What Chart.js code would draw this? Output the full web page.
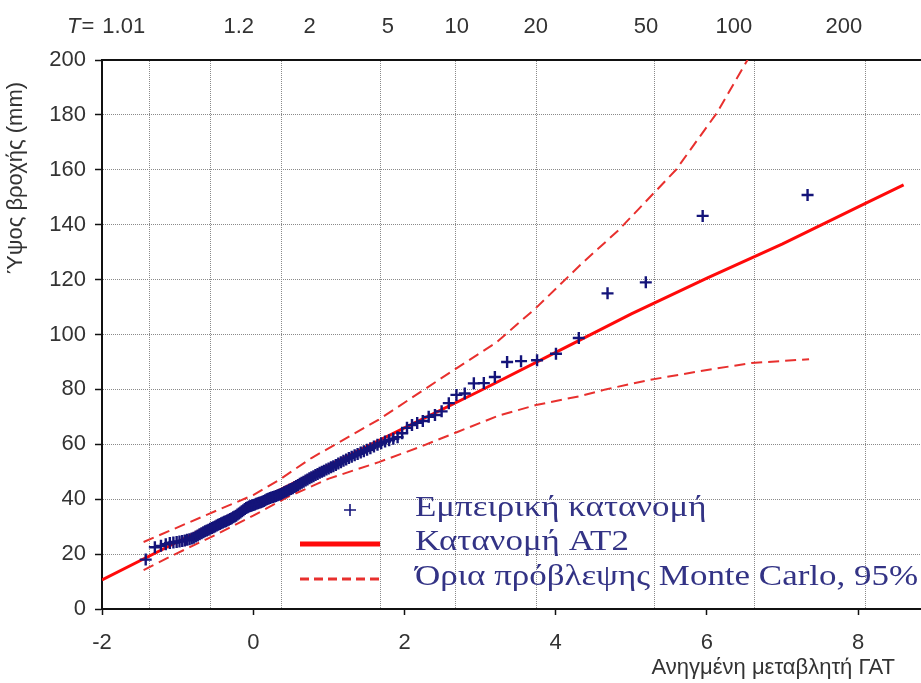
<!DOCTYPE html>
<html>
<head>
<meta charset="utf-8">
<script src="https://cdn.jsdelivr.net/npm/chart.js@4/dist/chart.umd.min.js"></script>
<style>
  html, body { margin: 0; padding: 0; background: #ffffff; }
  #chart { display: block; }
</style>
</head>
<body>
<canvas id="chart" width="921" height="683"></canvas>
<script>
// Empirical distribution: reduced variate of each plotting position and the observed depth (mm), ascending
const empiricalX = [
  -1.422, -1.301, -1.220, -1.157, -1.103, -1.056, -1.013, -0.975, -0.939, -0.905,
  -0.874, -0.843, -0.814, -0.787, -0.760, -0.734, -0.709, -0.684, -0.660, -0.637,
  -0.614, -0.591, -0.569, -0.547, -0.526, -0.505, -0.484, -0.464, -0.443, -0.423,
  -0.403, -0.382, -0.363, -0.343, -0.324, -0.304, -0.285, -0.265, -0.246, -0.227,
  -0.208, -0.189, -0.170, -0.151, -0.131, -0.112, -0.093, -0.074, -0.055, -0.036,
  -0.017, 0.002, 0.022, 0.041, 0.061, 0.080, 0.100, 0.120, 0.139, 0.159,
  0.179, 0.200, 0.220, 0.240, 0.261, 0.282, 0.302, 0.323, 0.344, 0.366,
  0.387, 0.409, 0.431, 0.454, 0.476, 0.499, 0.522, 0.545, 0.569, 0.593,
  0.617, 0.641, 0.666, 0.692, 0.717, 0.743, 0.769, 0.796, 0.823, 0.851,
  0.879, 0.908, 0.937, 0.967, 0.997, 1.028, 1.059, 1.092, 1.125, 1.159,
  1.193, 1.229, 1.265, 1.302, 1.341, 1.380, 1.421, 1.462, 1.505, 1.549,
  1.596, 1.643, 1.692, 1.743, 1.797, 1.852, 1.909, 1.969, 2.033, 2.099,
  2.168, 2.242, 2.320, 2.403, 2.491, 2.586, 2.687, 2.797, 2.917, 3.049,
  3.195, 3.357, 3.541, 3.753, 4.003, 4.305, 4.685, 5.191, 5.943, 7.330
];
const empiricalY = [
  18, 22.5, 23, 23.6, 24, 24.2, 24.4, 24.6, 24.8, 25,
  25.2, 25.4, 25.7, 26, 26.4, 26.8, 27.2, 27.6, 28, 28.3,
  28.6, 28.9, 29.2, 29.5, 29.8, 30.1, 30.4, 30.7, 31, 31.2,
  31.5, 31.8, 32, 32.2, 32.5, 32.8, 33.1, 33.4, 33.7, 34,
  34.4, 34.8, 35.2, 35.6, 36, 36.4, 36.8, 37.1, 37.3, 37.5,
  37.7, 37.9, 38.1, 38.3, 38.5, 38.7, 38.9, 39.1, 39.3, 39.6,
  40, 40.2, 40.4, 40.6, 40.8, 41, 41.2, 41.4, 41.6, 41.9,
  42.2, 42.5, 42.8, 43.1, 43.4, 43.7, 44, 44.4, 44.8, 45.2,
  45.6, 46, 46.4, 46.8, 47.2, 47.6, 48, 48.4, 48.8, 49.2,
  49.6, 50, 50.4, 50.8, 51.2, 51.6, 52, 52.5, 53, 53.5,
  54, 54.5, 55, 55.5, 56, 56.5, 57, 57.5, 58, 58.6,
  59.2, 59.8, 60.4, 61, 61.5, 62, 62.6, 64, 66, 67,
  67.8, 68.5, 70, 70.7, 72, 75, 78, 78.5, 82.2, 82.3,
  84.5, 90, 90.3, 90.6, 93, 98.7, 115, 119, 143.2, 150.8
];

// Fitted AT2 distribution
const fitX = [-2, -1, 0, 1, 2, 3, 4, 5, 6, 7, 8, 8.6];
const fitY = [10.6, 24.5, 38.5, 52.3, 66, 79.5, 93.5, 107.5, 120.5, 133, 146.5, 154.5];

// Monte Carlo 95% prediction limits
const upperX = [-1.45, -0.6, 0, 0.34, 0.77, 1.66, 2.45, 3.21, 3.74, 4.35, 4.83, 5.59, 6.13, 6.55, 6.7];
const upperY = [24.4, 34.5, 41.5, 47, 55, 69, 83.4, 97, 109.7, 126, 138, 160, 180.7, 200.7, 207];
const lowerX = [-1.45, -1.03, -0.5, 0, 0.47, 1.0, 1.66, 2.2, 2.7, 3.25, 3.74, 4.31, 4.66, 5.23, 5.98, 6.59, 7.35];
const lowerY = [14.2, 20, 27, 34, 41, 47.5, 53.5, 59, 64.5, 70.5, 74.3, 77.5, 80, 83.4, 87, 89.6, 91];

// Return periods: gridline positions on the reduced-variate axis, label positions and texts
const periodGridX = [-1.37, -0.56, 0.377, 1.68, 2.677, 3.742, 5.30, 6.63, 8.09];
const periodLabelX = [-1.713, -0.192, 0.747, 1.779, 2.692, 3.737, 5.192, 6.356, 7.81];
const periodLabels = ['1.01', '1.2', '2', '5', '10', '20', '50', '100', '200'];

// Axis ticks and titles
const xTicks = [-2, 0, 2, 4, 6, 8];
const yTicks = [0, 20, 40, 60, 80, 100, 120, 140, 160, 180, 200];
const xTitle = 'Ανηγμένη μεταβλητή ΓΑΤ';
const yTitle = 'Ύψος βροχής (mm)';
const periodPrefix = 'T';

const seriesNames = ['Εμπειρική κατανομή', 'Κατανομή ΑΤ2', 'Όρια πρόβλεψης Monte Carlo, 95%'];

const pairs = (xs, ys) => xs.map((x, i) => ({ x: x, y: ys[i] }));

const X_MIN = -2, X_MAX = 8.83;
const TICK_FONT = { family: "'Liberation Sans', Arial, sans-serif", size: 22 };
const TICK_COLOR = '#333333';
const GRID_COLOR = '#8a8a8a';
const NAVY = '#14147a';
const RED = '#ff0a0a';
const RED_DASH = '#e8302e';

// Keep horizontal axes from reserving side space for their end labels
const noSidePadding = s => { s.paddingLeft = 0; s.paddingRight = 0; };

// Axis titles, the italic "T=" prefix and the legend in the lower right of the plot
const decorations = {
  id: 'decorations',
  afterDraw(chart) {
    const ctx = chart.ctx;
    const xL = chart.scales.xL;
    ctx.save();

    // "T=" before the first return-period label
    ctx.font = "22px 'Liberation Sans', Arial, sans-serif";
    const firstW = ctx.measureText(periodLabels[0]).width;
    const px = xL.getPixelForValue(periodLabelX[0]) - firstW / 2 - 8;
    ctx.fillStyle = TICK_COLOR;
    ctx.textBaseline = 'middle';
    ctx.textAlign = 'right';
    const eqW = ctx.measureText('=').width;
    ctx.fillText('=', px, 27);
    ctx.font = "italic 22px 'Liberation Sans', Arial, sans-serif";
    ctx.fillText(periodPrefix, px - eqW - 1, 27);

    // x-axis title
    ctx.font = "22px 'Liberation Sans', Arial, sans-serif";
    ctx.textAlign = 'right';
    ctx.fillText(xTitle, 895, 668);

    // y-axis title
    ctx.save();
    ctx.translate(16, 178);
    ctx.rotate(-Math.PI / 2);
    ctx.textAlign = 'center';
    ctx.fillText(yTitle, 0, 0);
    ctx.restore();

    // Legend
    const ds = chart.data.datasets;
    const rows = [510, 544, 579];
    const sx0 = 300, sx1 = 380, tx = 415;
    // empirical marker
    ctx.strokeStyle = ds[0].borderColor;
    ctx.lineWidth = 1.6;
    ctx.beginPath();
    ctx.moveTo(344, rows[0]); ctx.lineTo(356, rows[0]);
    ctx.moveTo(350, rows[0] - 6); ctx.lineTo(350, rows[0] + 6);
    ctx.stroke();
    // fitted line
    ctx.strokeStyle = ds[1].borderColor;
    ctx.lineWidth = 5;
    ctx.beginPath(); ctx.moveTo(sx0, rows[1]); ctx.lineTo(sx1, rows[1]); ctx.stroke();
    // limits
    ctx.strokeStyle = ds[2].borderColor;
    ctx.lineWidth = 3;
    ctx.setLineDash([9, 5]);
    ctx.beginPath(); ctx.moveTo(sx0, rows[2]); ctx.lineTo(sx1, rows[2]); ctx.stroke();
    ctx.setLineDash([]);

    ctx.fillStyle = '#333385';
    ctx.textAlign = 'left';
    ctx.textBaseline = 'middle';
    ctx.font = "30px 'Liberation Serif', 'Times New Roman', serif";
    const longest = ctx.measureText(seriesNames[2]).width;
    const stretch = 503 / longest;
    seriesNames.forEach((name, i) => {
      ctx.save();
      ctx.translate(tx, rows[i] - 2);
      ctx.scale(stretch, 1);
      ctx.fillText(name, 0, 0);
      ctx.restore();
    });
    ctx.restore();
  }
};

new Chart(document.getElementById('chart'), {
  type: 'scatter',
  data: {
    datasets: [
      {
        label: seriesNames[0],
        data: pairs(empiricalX, empiricalY),
        showLine: false,
        pointStyle: 'cross',
        pointRadius: 6,
        pointBorderWidth: 2.4,
        borderColor: NAVY,
        backgroundColor: NAVY
      },
      {
        label: seriesNames[1],
        data: pairs(fitX, fitY),
        showLine: true,
        borderColor: RED,
        borderWidth: 3,
        pointRadius: 0,
        tension: 0,
        fill: false
      },
      {
        label: seriesNames[2],
        data: pairs(upperX, upperY),
        showLine: true,
        borderColor: RED_DASH,
        borderWidth: 2,
        borderDash: [11, 6],
        pointRadius: 0,
        tension: 0,
        fill: false
      },
      {
        label: seriesNames[2],
        data: pairs(lowerX, lowerY),
        showLine: true,
        borderColor: RED_DASH,
        borderWidth: 2,
        borderDash: [11, 6],
        pointRadius: 0,
        tension: 0,
        fill: false
      }
    ]
  },
  options: {
    responsive: false,
    animation: false,
    devicePixelRatio: 1,
    events: [],
    layout: { padding: 0, autoPadding: false },
    plugins: {
      legend: { display: false },
      tooltip: { enabled: false }
    },
    scales: {
      x: {
        type: 'linear',
        position: 'bottom',
        min: X_MIN,
        max: X_MAX,
        afterBuildTicks: s => { s.ticks = xTicks.map(v => ({ value: v })); },
        afterFit: s => { s.height = 74; noSidePadding(s); },
        grid: { drawOnChartArea: false, drawTicks: true, tickLength: 6, tickColor: '#111', tickWidth: 1.5 },
        border: { display: true, color: '#111', width: 2 },
        ticks: { font: TICK_FONT, color: TICK_COLOR, padding: 15, autoSkip: false, maxRotation: 0, minRotation: 0 }
      },
      xT: {
        type: 'linear',
        position: 'top',
        weight: 0,
        min: X_MIN,
        max: X_MAX,
        afterBuildTicks: s => { s.ticks = periodGridX.map(v => ({ value: v })); },
        afterFit: s => { s.height = 0; noSidePadding(s); },
        grid: { display: true, drawOnChartArea: true, drawTicks: false, color: GRID_COLOR, lineWidth: 1 },
        border: { display: true, color: '#111', width: 2, dash: [1, 1] },
        ticks: { display: false }
      },
      xL: {
        type: 'linear',
        position: 'top',
        weight: 1,
        min: X_MIN,
        max: X_MAX,
        afterBuildTicks: s => { s.ticks = periodLabelX.map(v => ({ value: v })); },
        afterFit: s => { s.height = 60; noSidePadding(s); },
        grid: { display: false, drawTicks: false },
        border: { display: false },
        ticks: {
          font: TICK_FONT, color: TICK_COLOR, padding: 20, autoSkip: false, maxRotation: 0, minRotation: 0,
          callback: (v, i) => periodLabels[i]
        }
      },
      y: {
        type: 'linear',
        position: 'left',
        min: 0,
        max: 200,
        afterBuildTicks: s => { s.ticks = yTicks.map(v => ({ value: v })); },
        afterFit: s => { s.width = 102; },
        grid: { display: true, drawOnChartArea: true, drawTicks: true, tickLength: 7, color: GRID_COLOR, lineWidth: 1, tickColor: '#111', tickWidth: 1.5, tickBorderDash: [] },
        border: { display: true, color: '#111', width: 2, dash: [1, 1] },
        ticks: { font: TICK_FONT, color: TICK_COLOR, padding: 9 }
      }
    }
  },
  plugins: [decorations]
});
</script>
</body>
</html>
